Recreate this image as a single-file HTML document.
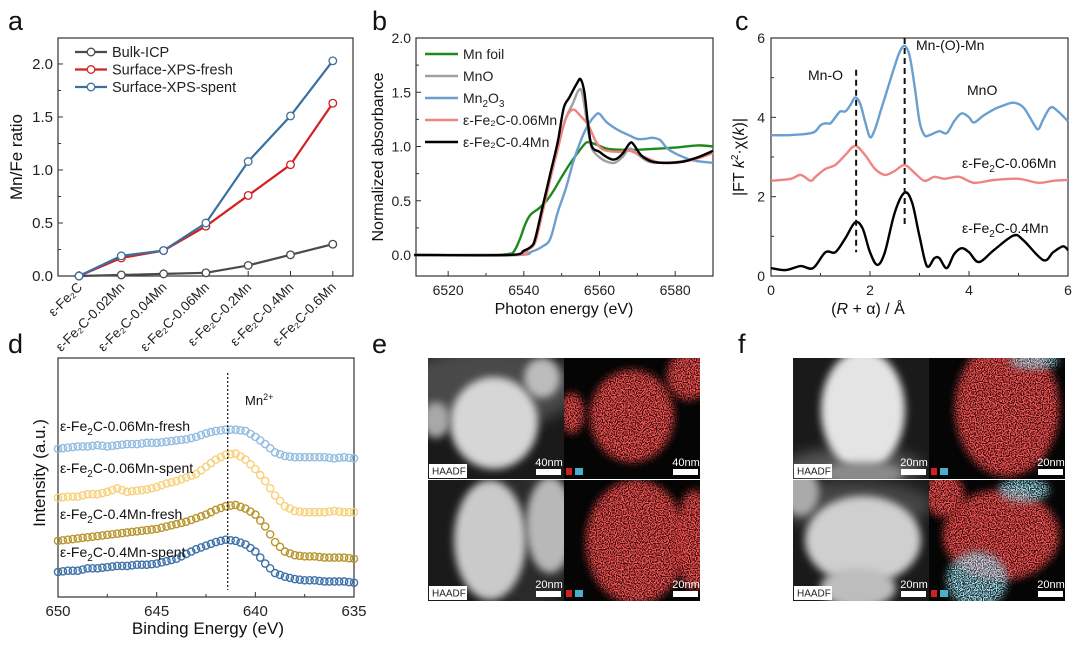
<!DOCTYPE html>
<html><head><meta charset="utf-8">
<style>
html,body{margin:0;padding:0;background:#fff;}
svg{display:block;font-family:"Liberation Sans",Arial,sans-serif;}
</style></head>
<body>
<svg id="fig" width="1080" height="645" viewBox="0 0 1080 645" xmlns="http://www.w3.org/2000/svg">
<defs>
  <filter id="blur3" x="-30%" y="-30%" width="160%" height="160%"><feGaussianBlur stdDeviation="4"/></filter>
  <filter id="blur8" x="-40%" y="-40%" width="180%" height="180%"><feGaussianBlur stdDeviation="7"/></filter>
  <filter id="speckRed" x="0" y="0" width="100%" height="100%">
    <feTurbulence type="fractalNoise" baseFrequency="0.85" numOctaves="1" seed="3"/>
    <feColorMatrix type="matrix" values="0 0 0 0 0.9  0 0 0 0 0.1  0 0 0 0 0.1  0 0 0 8 -3.4"/>
  </filter>
  <filter id="speckCyan" x="0" y="0" width="100%" height="100%">
    <feTurbulence type="fractalNoise" baseFrequency="0.85" numOctaves="1" seed="7"/>
    <feColorMatrix type="matrix" values="0 0 0 0 0.45  0 0 0 0 0.8  0 0 0 0 0.9  0 0 0 8 -3.6"/>
  </filter>
</defs>
<g id="root"></g>
</svg>
<script>
// ---------- Panel a data ----------
const catsA = ["ε-Fe₂C","ε-Fe₂C-0.02Mn","ε-Fe₂C-0.04Mn","ε-Fe₂C-0.06Mn","ε-Fe₂C-0.2Mn","ε-Fe₂C-0.4Mn","ε-Fe₂C-0.6Mn"];
const bulkICP = [0,0.01,0.02,0.03,0.10,0.20,0.30];
const xpsFresh = [0,0.17,0.24,0.47,0.76,1.05,1.63];
const xpsSpent = [0,0.19,0.24,0.50,1.08,1.51,2.03];
const ticksA = [0,0.5,1.0,1.5,2.0];
// ---------- Panel b data ----------
const ticksBx = [6520,6540,6560,6580];
const ticksBy = [0,0.5,1.0,1.5,2.0];
const mnFoilE = [6511,6530,6536,6537.5,6539,6540,6541,6542,6544,6546,6548,6550,6552,6554,6556,6557,6559,6562,6566,6570,6575,6580,6586,6590];
const mnFoilA = [0,0,0.01,0.04,0.15,0.25,0.33,0.38,0.43,0.5,0.6,0.72,0.83,0.93,1.02,1.04,1.02,0.98,0.97,0.97,0.98,0.99,1.01,1.0];
const mnoE = [6511,6535,6539,6541,6543,6545,6547,6549,6551,6553,6554.5,6555.5,6557,6558,6560,6562,6564,6566,6568,6570,6573,6577,6581,6586,6590];
const mnoA = [0,0,0.01,0.05,0.12,0.42,0.72,1.0,1.25,1.4,1.52,1.48,1.15,0.98,0.9,0.86,0.85,0.9,0.98,0.93,0.86,0.85,0.86,0.9,0.95];
const mn2o3E = [6511,6538,6542,6545,6547,6549,6551,6553,6555,6557,6559,6560,6562,6565,6568,6570,6572,6574,6576,6578,6581,6585,6590];
const mn2o3A = [0,0,0.03,0.08,0.15,0.4,0.6,0.85,1.05,1.2,1.29,1.3,1.22,1.15,1.1,1.07,1.07,1.08,1.06,0.98,0.92,0.87,0.85];
const fe006E = [6511,6538,6541,6543,6545,6547,6549,6551,6553,6555,6557,6559,6561,6565,6568,6572,6576,6580,6585,6590];
const fe006A = [0,0,0.05,0.12,0.4,0.7,0.98,1.25,1.34,1.28,1.2,1.05,0.97,0.95,0.96,0.9,0.85,0.85,0.88,0.94];
const fe04E = [6511,6536,6540,6542,6543,6545,6547,6549,6550.5,6552,6554,6555,6556,6557,6558,6560,6562,6564,6566,6568,6569,6571,6574,6578,6582,6586,6590];
const fe04A = [0,0,0.04,0.08,0.15,0.45,0.75,1.05,1.35,1.45,1.58,1.62,1.5,1.2,1.0,0.95,0.9,0.88,0.93,1.03,1.02,0.92,0.86,0.85,0.86,0.9,0.96];
// ---------- Panel c data ----------
const ticksC = [0,2,4,6];
const mnoR = [0,0.3,0.6,0.8,0.9,1.0,1.1,1.2,1.3,1.4,1.5,1.6,1.7,1.8,1.9,2.0,2.1,2.2,2.3,2.4,2.5,2.6,2.7,2.8,2.9,3.0,3.1,3.2,3.4,3.55,3.7,3.85,4.0,4.1,4.3,4.5,4.7,4.9,5.1,5.3,5.4,5.5,5.65,5.8,6.0];
const mnoFT = [3.55,3.55,3.57,3.6,3.65,3.8,3.85,3.85,4.0,4.15,4.15,4.3,4.5,4.35,3.9,3.5,3.7,4.1,4.5,4.9,5.3,5.65,5.8,5.55,4.8,3.9,3.55,3.55,3.65,3.6,3.9,4.1,4.0,3.87,4.05,4.2,4.3,4.37,4.25,3.85,3.7,3.95,4.25,4.15,3.9];
const fe006R = [0,0.4,0.6,0.8,0.9,1.1,1.3,1.5,1.7,1.9,2.1,2.3,2.5,2.7,2.9,3.1,3.3,3.5,3.8,4.1,4.5,5.0,5.4,5.7,6.0];
const fe006FT = [2.4,2.45,2.55,2.4,2.5,2.7,2.8,3.05,3.28,3.05,2.7,2.55,2.65,2.8,2.6,2.4,2.5,2.45,2.5,2.35,2.42,2.45,2.35,2.4,2.42];
const fe04R = [0,0.3,0.6,0.85,1.1,1.3,1.5,1.7,1.85,2.0,2.15,2.3,2.5,2.7,2.85,3.0,3.15,3.3,3.4,3.55,3.7,3.85,4.0,4.2,4.5,4.9,5.1,5.5,5.7,5.9,6.0];
const fe04FT = [0.2,0.15,0.25,0.2,0.6,0.6,0.95,1.35,1.2,0.6,0.28,0.6,1.6,2.1,1.85,1.0,0.25,0.45,0.45,0.2,0.55,0.7,0.6,0.35,0.65,1.02,0.9,0.4,0.6,0.75,0.65];
// ---------- Panel d data ----------
const ticksD = [650,645,640,635];
const energyD = [650,649.5,649,648.5,648,647.5,647,646.5,646,645.5,645,644.5,644,643.5,643,642.5,642,641.5,641,640.5,640,639.5,639,638.5,638,637.5,637,636.5,636,635.5,635];
const fresh006 = [6.2,6.25,6.3,6.3,6.35,6.3,6.35,6.4,6.4,6.45,6.45,6.5,6.55,6.6,6.7,6.85,6.95,7.0,7.0,6.95,6.7,6.4,6.05,5.9,5.85,5.85,5.85,5.85,5.8,5.85,5.8];
const spent006 = [4.15,4.2,4.2,4.3,4.3,4.4,4.55,4.4,4.45,4.5,4.6,4.75,4.85,5.0,5.15,5.45,5.75,5.95,6.0,5.75,5.35,4.85,4.25,3.8,3.6,3.55,3.55,3.55,3.6,3.55,3.55];
const fresh04 = [2.35,2.4,2.45,2.5,2.55,2.6,2.65,2.7,2.75,2.8,2.85,2.95,3.05,3.15,3.3,3.45,3.65,3.8,3.85,3.7,3.45,2.95,2.3,1.9,1.75,1.7,1.7,1.65,1.65,1.65,1.6];
const spent04 = [1.05,1.1,1.1,1.2,1.2,1.25,1.3,1.3,1.35,1.35,1.4,1.5,1.6,1.8,2.0,2.15,2.3,2.4,2.35,2.2,1.9,1.4,1.0,0.85,0.75,0.7,0.7,0.65,0.65,0.65,0.6];

const NS = "http://www.w3.org/2000/svg";
const root = document.getElementById('root');
function mk(tag, attrs, parent){ const e=document.createElementNS(NS,tag); for(const k in attrs) e.setAttribute(k,attrs[k]); (parent||root).appendChild(e); return e; }
function txt(s, x, y, size, anchor, parent, extra){ const t=mk('text',Object.assign({x:x,y:y,'font-size':size,'text-anchor':anchor||'start',fill:'#111'},extra||{}),parent); t.textContent=s; return t; }
function linear(d0,d1,r0,r1){ return v=>r0+(v-d0)*(r1-r0)/(d1-d0); }
function smoothPath(pts){
  let d='M'+pts[0][0].toFixed(1)+','+pts[0][1].toFixed(1);
  for(let i=0;i<pts.length-1;i++){
    const p0=pts[Math.max(0,i-1)],p1=pts[i],p2=pts[i+1],p3=pts[Math.min(pts.length-1,i+2)];
    const c1=[p1[0]+(p2[0]-p0[0])/6,p1[1]+(p2[1]-p0[1])/6], c2=[p2[0]-(p3[0]-p1[0])/6,p2[1]-(p3[1]-p1[1])/6];
    d+='C'+c1[0].toFixed(1)+','+c1[1].toFixed(1)+' '+c2[0].toFixed(1)+','+c2[1].toFixed(1)+' '+p2[0].toFixed(1)+','+p2[1].toFixed(1);
  }
  return d;
}
function frame(g,x0,y0,x1,y1){ mk('rect',{x:x0,y:y0,width:x1-x0,height:y1-y0,fill:'none',stroke:'#333','stroke-width':1.2},g); }

// ================= Panel a =================
(function(){
  const g=mk('g',{});
  
  
  const L=58,R=353,T=38,B=276;
  const yS=linear(0,2.245,B,T);
  const xS=i=>79+i*42.3;
  txt('a',8,30,27,'start',g);
  frame(g,L,T,R,B);
  ticksA.forEach(v=>{ const y=yS(v); mk('line',{x1:L,x2:L+5,y1:y,y2:y,stroke:'#333'},g); txt(v.toFixed(1),L-5,y+5,15,'end',g,{fill:'#222'});
    const ym=yS(v+0.25); if(ym>T) mk('line',{x1:L,x2:L+3,y1:ym,y2:ym,stroke:'#333'},g); });
  catsA.forEach((c,i)=>{ const x=xS(i); mk('line',{x1:x,x2:x,y1:B,y2:B-5,stroke:'#333'},g);
    const t=txt(c,x+4,B+12,13.5,'end',g,{transform:'rotate(-45 '+(x+4)+' '+(B+12)+')',fill:'#222'});  });
  const yl=txt('Mn/Fe ratio',22,157,17,'middle',g,{transform:'rotate(-90 22 157)'}); 
  const series=[[bulkICP,'#4a4a4a','Bulk-ICP'],[xpsFresh,'#d42020','Surface-XPS-fresh'],[xpsSpent,'#3a6f9e','Surface-XPS-spent']];
  series.forEach(([vals,col,name])=>{
    const p=mk('polyline',{points:vals.map((v,i)=>xS(i)+','+yS(v)).join(' '),fill:'none',stroke:col,'stroke-width':2.2},g);
    
    
    vals.forEach((v,i)=>{ const c=mk('circle',{cx:xS(i),cy:yS(v),r:3.8,fill:'#fff',stroke:col,'stroke-width':1.3},g);
        });
  });
  series.forEach(([v,col,name],k)=>{ const y=52+k*17.5;
    const lg=mk('g',{},g);  
    mk('line',{x1:75,x2:107,y1:y,y2:y,stroke:col,'stroke-width':2.2},lg);
    mk('circle',{cx:91,cy:y,r:3.8,fill:'#fff',stroke:col,'stroke-width':1.3},lg);
    txt(name,112,y+5,14.5,'start',lg,{fill:'#222'}); });
})();

// ================= Panel b =================
(function(){
  const g=mk('g',{});
  
  
  const L=416,R=713,T=38,B=276;
  const xS=linear(6511.5,6590,L,R), yS=linear(0,1,255,146.5);
  txt('b',372,30,27,'start',g);
  frame(g,L,T,R,B);
  ticksBy.forEach(v=>{ const y=yS(v); mk('line',{x1:L,x2:L+5,y1:y,y2:y,stroke:'#333'},g); txt(v.toFixed(1),L-5,y+5,14,'end',g,{fill:'#222'});
    const ym=yS(v+0.25); if(ym>T) mk('line',{x1:L,x2:L+3,y1:ym,y2:ym,stroke:'#333'},g); });
  ticksBx.forEach(v=>{ const x=xS(v); mk('line',{x1:x,x2:x,y1:B,y2:B-5,stroke:'#333'},g); txt(String(v),x,B+19,14,'middle',g,{fill:'#222'});
    const xm=xS(v-10); if(xm>L) mk('line',{x1:xm,x2:xm,y1:B,y2:B-3,stroke:'#333'},g); });
  mk('line',{x1:xS(6590),x2:xS(6590),y1:B,y2:B-3,stroke:'#333'},g);
  txt('Normalized absorbance',383,157,16,'middle',g,{transform:'rotate(-90 383 157)'});
  txt('Photon energy (eV)',564,314,16,'middle',g);
  const ser=[[mnFoilE,mnFoilA,'#1e8a1e','Mn foil'],[mnoE,mnoA,'#a0a0a0','MnO'],[mn2o3E,mn2o3A,'#6a9fd0','Mn2O3'],[fe006E,fe006A,'#ee8580','ε-Fe2C-0.06Mn'],[fe04E,fe04A,'#000','ε-Fe2C-0.4Mn']];
  const order=[0,2,1,3,4];
  order.forEach(k=>{ const [E,A,col,name]=ser[k];
    const p=mk('path',{d:smoothPath(E.map((e,i)=>[xS(e),yS(A[i])])),fill:'none',stroke:col,'stroke-width':2.4},g);
    
     });
  const labels=['Mn foil','MnO',null,'ε-Fe₂C-0.06Mn','ε-Fe₂C-0.4Mn'];
  ser.forEach(([E,A,col,name],k)=>{ const y=54+k*22;
    const lg=mk('g',{},g);  
    mk('line',{x1:425,x2:458,y1:y,y2:y,stroke:col,'stroke-width':2.6},lg);
    if(k===2){ const t=txt('Mn',463,y+5,14,'start',lg,{fill:'#222'}); const s1=mk('tspan',{'font-size':10,dy:4},t); s1.textContent='2'; const s2=mk('tspan',{dy:-4},t); s2.textContent='O'; const s3=mk('tspan',{'font-size':10,dy:4},t); s3.textContent='3'; }
    else txt(labels[k],463,y+5,14,'start',lg,{fill:'#222'}); });
})();

// ================= Panel c =================
(function(){
  const g=mk('g',{});
  
  
  const L=771,R=1068,T=38,B=276;
  const xS=linear(0,6,L,R), yS=linear(0,6,B,T);
  txt('c',735,30,27,'start',g);
  frame(g,L,T,R,B);
  [0,2,4,6].forEach(v=>{ const y=yS(v); mk('line',{x1:L,x2:L+5,y1:y,y2:y,stroke:'#333'},g); txt(String(v),L-6,y+5,14,'end',g,{fill:'#222'});
    const ym=yS(v+1); if(ym>T) mk('line',{x1:L,x2:L+3,y1:ym,y2:ym,stroke:'#333'},g); });
  ticksC.forEach(v=>{ const x=xS(v); mk('line',{x1:x,x2:x,y1:B,y2:B-5,stroke:'#333'},g); txt(String(v),x,B+19,14,'middle',g,{fill:'#222'});
    const xm=xS(v+1); if(v<6) mk('line',{x1:xm,x2:xm,y1:B,y2:B-3,stroke:'#333'},g); });
  const yt=txt('',744,157,16,'middle',g,{transform:'rotate(-90 744 157)'}); 
  yt.innerHTML='|FT <tspan font-style="italic">k</tspan><tspan font-size="10" dy="-6">2</tspan><tspan dy="6">·χ(</tspan><tspan font-style="italic">k</tspan>)|';
  const xt=txt('',868,314,16,'middle',g); 
  xt.innerHTML='(<tspan font-style="italic">R</tspan> + α) / Å';
  [[mnoR,mnoFT,'#6a9fd0','mno'],[fe006R,fe006FT,'#ee8580','fe2c-0-06mn'],[fe04R,fe04FT,'#000','fe2c-0-4mn']].forEach(([Rr,F,col,n])=>{
    const p=mk('path',{d:smoothPath(Rr.map((r,i)=>[xS(r),yS(F[i])])),fill:'none',stroke:col,'stroke-width':2.4},g);
      });
  const d1=mk('line',{x1:xS(1.72),x2:xS(1.72),y1:yS(5.2),y2:yS(0.6),stroke:'#111','stroke-width':2,'stroke-dasharray':'6,4'},g); 
  const d2=mk('line',{x1:xS(2.7),x2:xS(2.7),y1:yS(6.0),y2:yS(1.3),stroke:'#111','stroke-width':2,'stroke-dasharray':'6,4'},g); 
  txt('Mn-O',808,80,14,'start',g);
  txt('Mn-(O)-Mn',916,50,14,'start',g);
  txt('MnO',967,95,14,'start',g);
  const l1=txt('',962,168,14,'start',g); l1.innerHTML='ε-Fe<tspan font-size="10" dy="4">2</tspan><tspan dy="-4">C-0.06Mn</tspan>'; 
  const l2=txt('',962,233,14,'start',g); l2.innerHTML='ε-Fe<tspan font-size="10" dy="4">2</tspan><tspan dy="-4">C-0.4Mn</tspan>'; 
})();

// ================= Panel d =================
(function(){
  const g=mk('g',{});
  
  
  const L=58,R=354,T=358,B=597;
  const xS=linear(650,635,L,R), yS=linear(0,10,B,B-239);
  txt('d',8,353,27,'start',g);
  frame(g,L,T,R,B);
  ticksD.forEach(v=>{ const x=xS(v); mk('line',{x1:x,x2:x,y1:B,y2:B-5,stroke:'#333'},g); txt(String(v),x,B+19,15,'middle',g,{fill:'#222'});
    if(v>635){ const xm=xS(v-2.5); mk('line',{x1:xm,x2:xm,y1:B,y2:B-3,stroke:'#333'},g);} });
  txt('Intensity (a.u.)',45,473,17,'middle',g,{transform:'rotate(-90 45 473)'});
  txt('Binding Energy (eV)',208,634,17,'middle',g);
  [[fresh006,'#93bde0','0-06mn-fresh'],[spent006,'#f6d27c','0-06mn-spent'],[fresh04,'#b8962e','0-4mn-fresh'],[spent04,'#3f72aa','0-4mn-spent']].forEach(([vals,col,n])=>{
    const sg=mk('g',{},g);  
    vals.forEach((v,i)=>{ mk('circle',{cx:xS(energyD[i]),cy:yS(v),r:3.6,fill:'none',stroke:col,'stroke-width':1.4},sg);
      if(i<vals.length-1){ mk('circle',{cx:(xS(energyD[i])+xS(energyD[i+1]))/2,cy:(yS(v)+yS(vals[i+1]))/2,r:3.6,fill:'none',stroke:col,'stroke-width':1.4},sg);} });
  });
  const dl=mk('line',{x1:xS(641.4),x2:xS(641.4),y1:373,y2:590,stroke:'#111','stroke-width':1.2,'stroke-dasharray':'2,2'},g); 
  const mn=txt('',245,405,13,'start',g); mn.innerHTML='Mn<tspan font-size="9" dy="-5">2+</tspan>'; 
  const labs=[['0.06Mn-fresh',426],['0.06Mn-spent',468],['0.4Mn-fresh',514],['0.4Mn-spent',552]];
  labs.forEach(([s,y])=>{ const t=txt('',60,y+5,14,'start',g); t.innerHTML='ε-Fe<tspan font-size="10" dy="4">2</tspan><tspan dy="-4">C-'+s+'</tspan>';  });
})();

// ================= Panels e, f (micrographs) =================
let mcount=0;
function micro(x0,label,lx,variant){
  const g=mk('g',{});
  
  
  txt(label,lx,353,27,'start',g);
  const W=136,H=121,y0=358;
  for(let r=0;r<2;r++){
    const yy=y0+r*(H+1);
    const cid='c'+label+r;
    const cp=mk('clipPath',{id:cid},g); mk('rect',{x:x0,y:yy,width:W,height:H},cp);
    const cp2=mk('clipPath',{id:cid+'m'},g); mk('rect',{x:x0+W,y:yy,width:W,height:H},cp2);
    const h=mk('g',{'clip-path':'url(#'+cid+')'},g);  
    mk('rect',{x:x0,y:yy,width:W,height:H,fill:'#1a1a1a'},h);
    let haze, blobs;
    if(variant==='e'){
      haze = r===0 ? [[60,30,90,40,'#4a4a4a']] : [[100,60,50,70,'#2a2a2a']];
      blobs = r===0 ? [[66,65,44,46,'#d6d6d6'],[114,20,18,20,'#bcbcbc'],[8,62,14,18,'#a8a8a8']] : [[62,60,36,60,'#cacaca'],[122,45,24,48,'#b8b8b8']];
    } else {
      haze = r===0 ? [[60,110,70,20,'#555']] : [[60,25,80,25,'#444']];
      blobs = r===0 ? [[70,52,42,60,'#e4e4e4'],[70,116,40,12,'#8a8a8a']] : [[70,60,58,44,'#cfcfcf'],[65,108,38,20,'#bdbdbd'],[8,12,18,24,'#aaa']];
    }
    haze.forEach(b=>mk('ellipse',{cx:x0+b[0],cy:yy+b[1],rx:b[2],ry:b[3],fill:b[4],filter:'url(#blur8)'},h));
    blobs.forEach(b=>mk('ellipse',{cx:x0+b[0],cy:yy+b[1],rx:b[2],ry:b[3],fill:b[4],filter:'url(#blur3)'},h));
    const hb=mk('rect',{x:x0+1,y:yy+H-15,width:38,height:14,fill:'#fff'},g); 
    txt('HAADF',x0+4,yy+H-4.5,10,'start',g,{fill:'#222'});
    const sc=(variant==='e'&&r===0)?'40nm':'20nm';
    mk('rect',{x:x0+W-28,y:yy+H-10,width:25,height:6,fill:'#fff'},g);
    txt(sc,x0+W-15,yy+H-13,11,'middle',g,{fill:'#fff'});
    const m=mk('g',{'clip-path':'url(#'+cid+'m)'},g);  
    mk('rect',{x:x0+W,y:yy,width:W,height:H,fill:'#050505'},m);
    let reds;
    if(variant==='e') reds = r===0 ? [[68,58,42,46],[125,18,22,24],[8,55,12,20]] : [[72,62,50,62],[130,60,18,50]];
    else reds = r===0 ? [[78,50,52,68]] : [[72,55,58,45],[15,15,20,22]];
    reds.forEach((b,i)=>{ mcount++; const id='rm'+mcount; const mm=mk('mask',{id:id},m);
      mk('ellipse',{cx:x0+W+b[0],cy:yy+b[1],rx:b[2],ry:b[3],fill:'#fff',filter:'url(#blur3)'},mm);
      mk('rect',{x:x0+W,y:yy,width:W,height:H,fill:'#7a0a0a',opacity:0.45,mask:'url(#'+id+')'},m);
      mk('rect',{x:x0+W,y:yy,width:W,height:H,filter:'url(#speckRed)',mask:'url(#'+id+')'},m); });
    if(variant==='f'){ mcount++; const id='cm'+mcount; const mm=mk('mask',{id:id},m);
      if(r===1){ mk('ellipse',{cx:x0+W+48,cy:yy+100,rx:30,ry:28,fill:'#fff',filter:'url(#blur3)'},mm); mk('ellipse',{cx:x0+W+95,cy:yy+10,rx:25,ry:12,fill:'#fff',filter:'url(#blur3)'},mm); }
      else { mk('ellipse',{cx:x0+W+105,cy:yy+3,rx:25,ry:8,fill:'#fff',filter:'url(#blur3)'},mm); }
      mk('rect',{x:x0+W,y:yy,width:W,height:H,fill:'#3a7f90',opacity:0.35,mask:'url(#'+id+')'},m);
      mk('rect',{x:x0+W,y:yy,width:W,height:H,filter:'url(#speckCyan)',mask:'url(#'+id+')'},m); }
    mk('rect',{x:x0+W+2,y:yy+H-11,width:6,height:7,fill:'#d02020'},g);
    mk('rect',{x:x0+W+11,y:yy+H-11,width:8,height:7,fill:'#4aaecc'},g);
    mk('rect',{x:x0+2*W-27,y:yy+H-10,width:25,height:6,fill:'#fff'},g);
    txt(sc,x0+2*W-14,yy+H-13,11,'middle',g,{fill:'#fff'});
  }
}
micro(428,'e',372,'e');
micro(793,'f',738,'f');
</script>
</body></html>
